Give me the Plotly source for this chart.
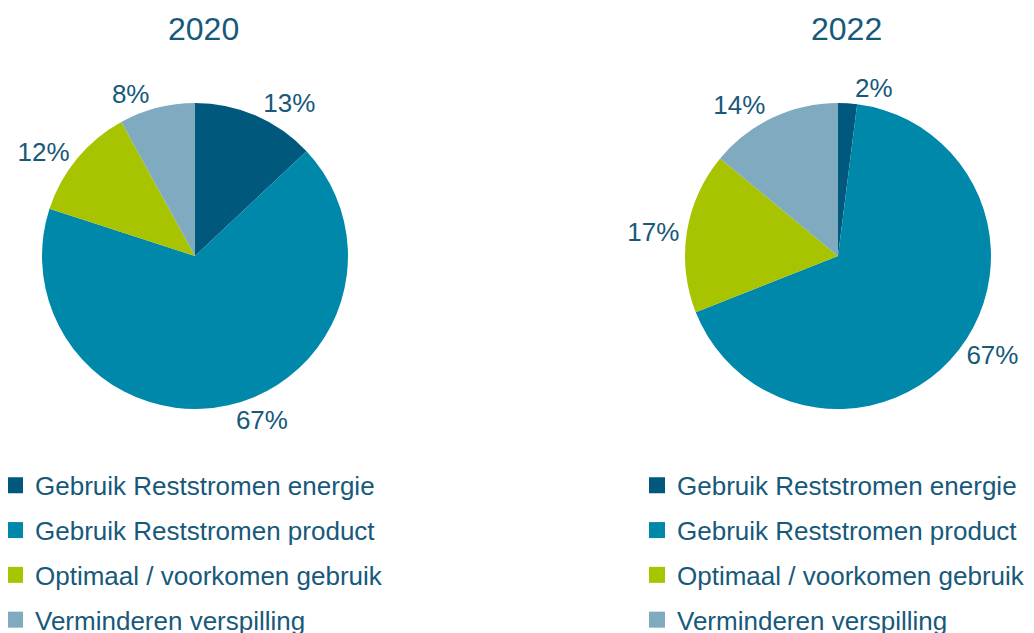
import plotly.graph_objects as go

categories = ["Gebruik Reststromen energie", "Gebruik Reststromen product",
              "Optimaal / voorkomen gebruik", "Verminderen verspilling"]
values_2020 = [13, 67, 12, 8]
values_2022 = [2, 67, 17, 14]
years = ["2020", "2022"]
colors = ["#00587D", "#0088AA", "#A8C300", "#80AABF"]
text_color = "#17597B"
FONT = "Liberation Sans, Arial, sans-serif"

W, H = 1034, 633
fig = go.Figure()

domains = [dict(x=[0.0329, 0.3288], y=[0.3665, 0.8499]),
           dict(x=[0.6547, 0.9507], y=[0.3665, 0.8499])]

for vals, dom in zip([values_2020, values_2022], domains):
    fig.add_trace(go.Pie(
        labels=categories, values=vals, sort=False, direction="clockwise",
        rotation=0, marker=dict(colors=colors, line=dict(width=0)),
        textinfo="percent", texttemplate="%{value}%", textposition="outside",
        textfont=dict(size=26, color=text_color, family=FONT),
        domain=dom, showlegend=False, hoverinfo="label+percent"))

# legend entries (one per category, per legend)
for li, leg in enumerate(["legend", "legend2"]):
    for i, (cat, col) in enumerate(zip(categories, colors)):
        fig.add_trace(go.Scatter(
            x=[None], y=[None], mode="markers", name=cat,
            marker=dict(symbol="square", size=16, color=col),
            legend=leg, legendgroup=f"{leg}_{i}", showlegend=True))

leg_common = dict(xanchor="left", yanchor="top", y=0.283,
                  font=dict(size=26, color=text_color, family=FONT),
                  tracegroupgap=8, bgcolor="rgba(0,0,0,0)", borderwidth=0)

fig.update_layout(
    width=W, height=H,
    margin=dict(l=0, r=0, t=0, b=0, autoexpand=False),
    paper_bgcolor="white", plot_bgcolor="white",
    xaxis=dict(visible=False), yaxis=dict(visible=False),
    font=dict(family=FONT, color=text_color),
    legend=dict(x=-13 / W, **leg_common),
    legend2=dict(x=629 / W, **leg_common),
    annotations=[
        dict(text=years[0], x=195 / W, y=1 - 21 / H, xref="paper", yref="paper",
             xanchor="center", yanchor="middle", showarrow=False,
             font=dict(size=32, color=text_color, family=FONT)),
        dict(text=years[1], x=838 / W, y=1 - 21 / H, xref="paper", yref="paper",
             xanchor="center", yanchor="middle", showarrow=False,
             font=dict(size=32, color=text_color, family=FONT)),
    ],
)

fig.write_html("out.html")
